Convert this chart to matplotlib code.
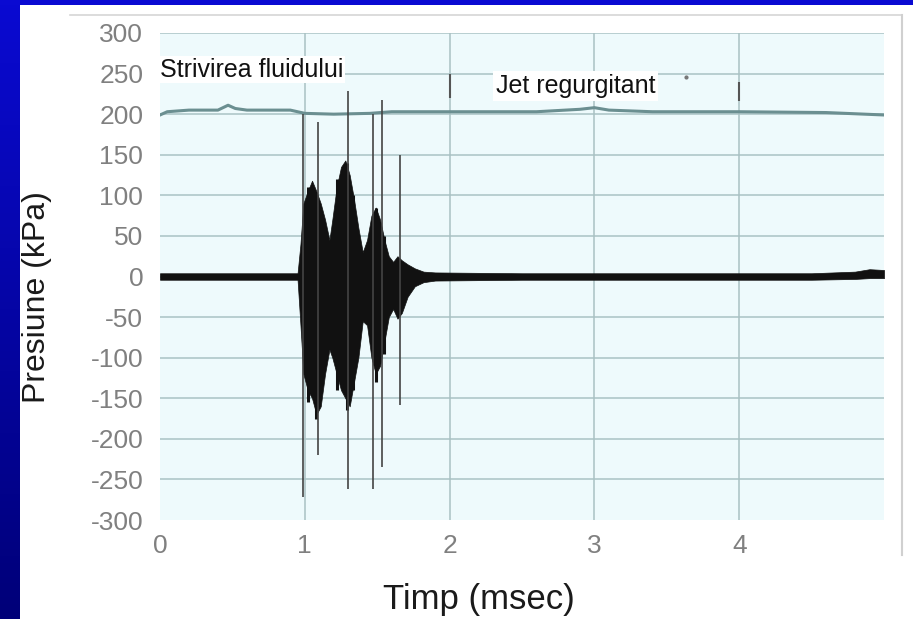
import numpy as np
import matplotlib
matplotlib.use("Agg")
import matplotlib.pyplot as plt
from matplotlib.lines import Line2D

plt.rcParams['font.family'] = ['Liberation Sans', 'DejaVu Sans']

# Upper trace (reference pressure, ~200 kPa)
upper_t = [0.00, 0.05, 0.20, 0.40, 0.47, 0.52, 0.60, 0.90, 1.00, 1.20, 1.45, 1.60,
           2.00, 2.60, 2.90, 3.00, 3.10, 3.40, 4.00, 4.60, 5.00]
upper_p = [199, 203, 205, 205, 211, 207, 205, 205, 201, 200, 201, 203,
           203, 203, 206, 208, 205, 203, 203, 202, 199]

# Lower trace envelope (acoustic pressure signal)
sig_t = [0.00, 0.30, 0.60, 0.95, 0.97, 0.99, 1.02, 1.05, 1.08, 1.11, 1.14, 1.17,
         1.19, 1.22, 1.25, 1.28, 1.31, 1.34, 1.37, 1.40, 1.43, 1.46, 1.49, 1.52,
         1.55, 1.58, 1.61, 1.64, 1.67, 1.71, 1.76, 1.82, 1.90, 2.50, 3.50, 4.50,
         4.80, 4.90, 5.00]
sig_hi = [4, 4, 4, 4, 40, 90, 105, 118, 105, 90, 70, 45,
          70, 110, 135, 143, 125, 95, 60, 30, 45, 75, 85, 70,
          45, 25, 18, 25, 20, 15, 10, 6, 5, 4, 4, 4,
          6, 9, 8]
sig_lo = [-4, -4, -4, -4, -60, -120, -140, -150, -170, -160, -120, -90,
          -100, -120, -140, -150, -160, -130, -100, -55, -60, -100, -120, -110,
          -80, -50, -40, -52, -45, -25, -12, -7, -5, -4, -4, -4,
          -3, -2, -2]

# Dense oscillation streaks inside the bursts
streak_t = [1.02, 1.08, 1.22, 1.29, 1.33, 1.49, 1.55]
streak_hi = [110, 100, 120, 140, 100, 85, 50]
streak_lo = [-155, -175, -140, -165, -140, -130, -95]

# Isolated extreme spikes
spike_t = [0.99, 1.09, 1.30, 1.47, 1.53, 1.66]
spike_hi = [200, 190, 228, 200, 218, 150]
spike_lo = [-272, -220, -262, -262, -235, -158]

x_ticks = [0, 1, 2, 3, 4]
y_ticks = list(range(-300, 301, 50))

W, H = 913, 619
fig = plt.figure(figsize=(W / 100, H / 100), dpi=100)
fig.patch.set_facecolor('white')

# slide background strips
grad = np.linspace(0, 1, 256).reshape(-1, 1)
left = fig.add_axes([0, 0, 19 / W, 1])
top_c = np.array([0x0a, 0x0a, 0xd2]) / 255
bot_c = np.array([0x00, 0x00, 0x78]) / 255
img = top_c[None, None, :] * (1 - grad[..., None]) + bot_c[None, None, :] * grad[..., None]
left.imshow(img, aspect='auto', extent=[0, 1, 0, 1])
left.axis('off')
topstrip = fig.add_axes([0, 1 - 5 / H, 1, 5 / H])
topstrip.set_facecolor('#0a0ad2')
topstrip.set_xticks([]); topstrip.set_yticks([])
for s in topstrip.spines.values():
    s.set_visible(False)

# faint chart frame
fig.add_artist(Line2D([70 / W, 902 / W], [1 - 15 / H, 1 - 15 / H], color='#d6d6d6', lw=1.2))
fig.add_artist(Line2D([902 / W, 902 / W], [1 - 15 / H, 1 - 555 / H], color='#d0d0d0', lw=1.5))

ax = fig.add_axes([160 / W, 1 - 520 / H, 724 / W, 487 / H])
ax.set_facecolor('#eefafc')
ax.set_xlim(0, 5)
ax.set_ylim(-300, 300)
for s in ax.spines.values():
    s.set_visible(False)

for y in y_ticks[1:]:
    ax.axhline(y, color='#b4cbcd', lw=1.3, zorder=1)
for x in x_ticks[1:]:
    ax.axvline(x, color='#a9c1c3', lw=1.1, zorder=1)

ax.set_xticks(x_ticks)
ax.set_xticklabels([str(v) for v in x_ticks])
ax.set_yticks(y_ticks)
ax.set_yticklabels([str(v) for v in y_ticks])
ax.tick_params(length=0, labelsize=19, labelcolor='#808080')
ax.tick_params(axis='y', pad=12)
ax.tick_params(axis='x', pad=10)

ax.plot(upper_t, upper_p, color='#6b8f91', lw=2.2, zorder=3)

ax.fill_between(sig_t, sig_lo, sig_hi, color='#111111', lw=0.5, zorder=4)
ax.vlines(streak_t, streak_lo, streak_hi, color='#111111', lw=2.2, zorder=4)
ax.vlines(spike_t, spike_lo, spike_hi, color='#444444', lw=1.2, zorder=4)

# region annotations
ax.text(0.0, 255, 'Strivirea fluidului', fontsize=18, color='#111111', ha='left', va='center',
        zorder=5, bbox=dict(facecolor='white', edgecolor='none', pad=1))
ax.text(2.32, 235, 'Jet regurgitant', fontsize=18, color='#111111', ha='left', va='center',
        zorder=5, bbox=dict(facecolor='white', edgecolor='none', pad=2))
ax.vlines([2.0, 4.0], [220, 216], [249, 240], color='#555555', lw=1.5, zorder=6)
ax.plot([3.63], [246], marker='o', ms=2, color='#777777', zorder=6)

fig.text(37 / W, 1 - 297 / H, 'Presiune (kPa)', rotation=90, fontsize=23, color='#1a1a1a',
         ha='center', va='center')
fig.text(479 / W, 1 - 600 / H, 'Timp (msec)', fontsize=25, color='#1a1a1a',
         ha='center', va='center')

fig.savefig('out.png', dpi=100, facecolor='white')
